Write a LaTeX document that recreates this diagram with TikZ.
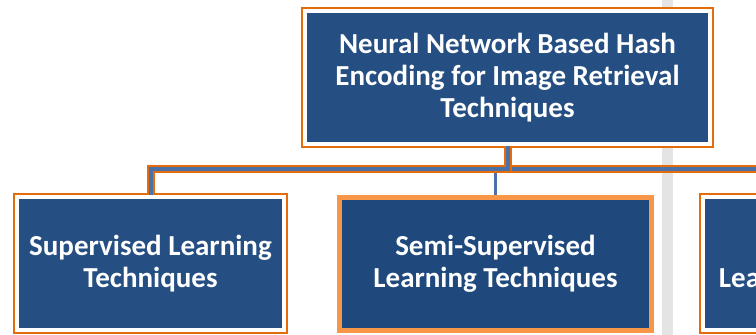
\documentclass[tikz,border=0pt]{standalone}
\usepackage{fontspec}
\setmainfont{Carlito}
\usepackage{tikz}
\usetikzlibrary{positioning}

\definecolor{hashblue}{RGB}{37,78,130}
\definecolor{midblue}{RGB}{31,73,125}
\definecolor{hashorange}{RGB}{228,108,10}
\definecolor{midorange}{RGB}{247,150,70}
\definecolor{linkblue}{RGB}{74,114,168}
\definecolor{bargray}{RGB}{228,228,228}

\begin{document}
\begin{tikzpicture}[x=0.5pt, y=-0.5pt,
  hashbox/.style={fill=hashblue, draw=white, line width=1.75pt,
    preaction={draw=hashorange, line width=4.25pt},
    text=white, font=\fontsize{14.5}{16}\selectfont\bfseries,
    align=center, inner sep=0pt},
  midbox/.style={fill=midblue, draw=midorange, line width=2.5pt,
    text=white, font=\fontsize{14.5}{16}\selectfont\bfseries,
    align=center, inner sep=0pt},
  link/.style={draw=hashorange, line width=1pt, double=linkblue, double distance=2pt},
  midlink/.style={draw=linkblue, line width=1.25pt}]

\useasboundingbox (0,0) rectangle (756,335);
\clip (0,0) rectangle (756,335);
\fill[white] (0,0) rectangle (756,335);

\fill[bargray] (662,0) rectangle (673,335);

\node[hashbox, minimum width=202.5pt, minimum height=66.5pt] (root) at (507.5,77.5)
  {Neural Network Based Hash\\Encoding for Image Retrieval\\Techniques};

\node[hashbox, minimum width=133.5pt, minimum height=66.5pt] (sup) at (150.5,263.5)
  {Supervised Learning\\Techniques};
\node[midbox, minimum width=156pt, minimum height=66.25pt] (semi) at (495.5,264)
  {Semi-Supervised\\Learning Techniques};
\node[hashbox, minimum width=138pt, minimum height=66.5pt] (unsup) at (841,263.5)
  {Unsupervised\\Learning Techniques};

\coordinate (hub) at (507.5,169);
\coordinate (semitap) at (495.5,172);

\draw[midlink] (semitap) -- (semi.north);
\draw[link] (root.south) -- (hub) -| (unsup.north);
\draw[link] (root.south) -- (hub) -| (sup.north);

\end{tikzpicture}
\end{document}
